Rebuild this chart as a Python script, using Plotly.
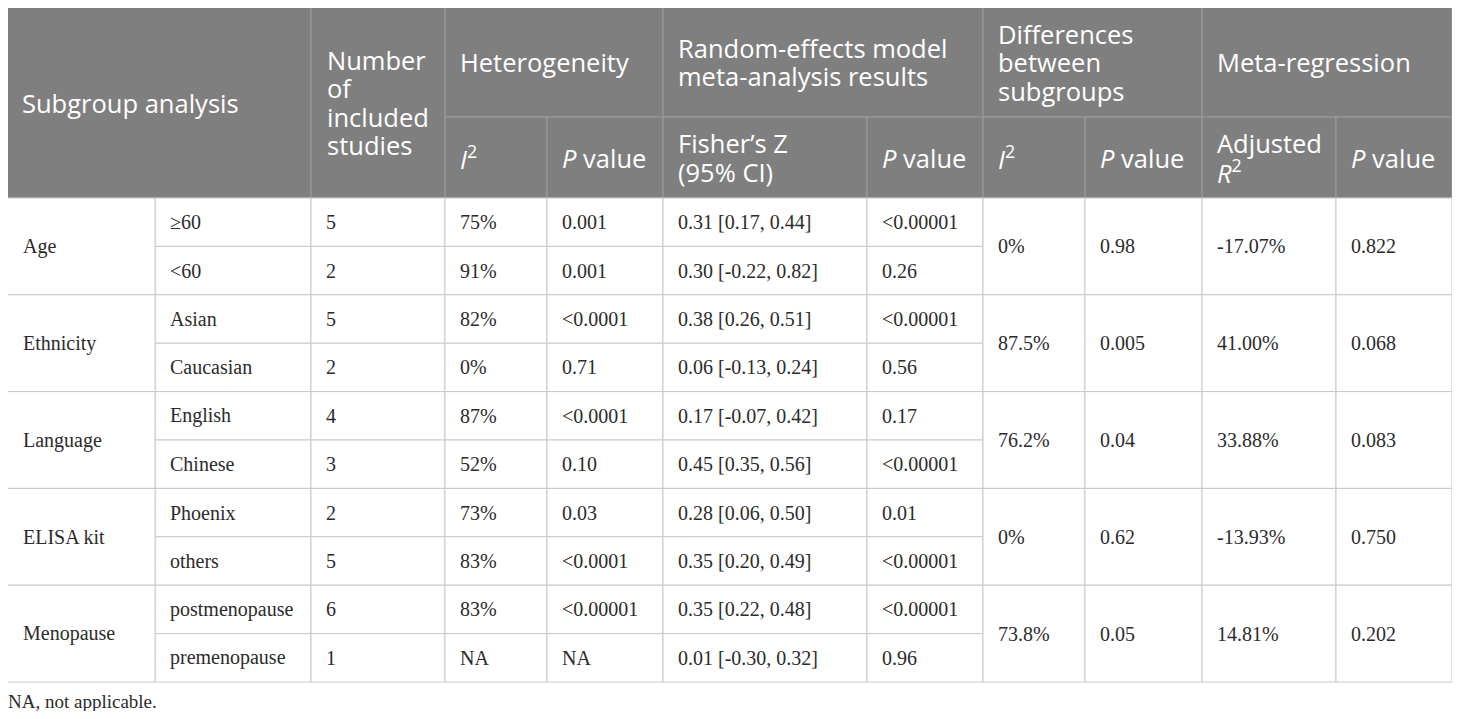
import plotly.graph_objects as go

# table contents
groups = ["Age", "Ethnicity", "Language", "ELISA kit", "Menopause"]
subgroups = ["≥60", "<60", "Asian", "Caucasian", "English", "Chinese",
             "Phoenix", "others", "postmenopause", "premenopause"]
n_studies = [5, 2, 5, 2, 4, 3, 2, 5, 6, 1]
het_i2 = ["75%", "91%", "82%", "0%", "87%", "52%", "73%", "83%", "83%", "NA"]
het_p = ["0.001", "0.001", "<0.0001", "0.71", "<0.0001", "0.10", "0.03",
         "<0.0001", "<0.00001", "NA"]
fisher_z = ["0.31 [0.17, 0.44]", "0.30 [-0.22, 0.82]", "0.38 [0.26, 0.51]",
            "0.06 [-0.13, 0.24]", "0.17 [-0.07, 0.42]", "0.45 [0.35, 0.56]",
            "0.28 [0.06, 0.50]", "0.35 [0.20, 0.49]", "0.35 [0.22, 0.48]",
            "0.01 [-0.30, 0.32]"]
re_p = ["<0.00001", "0.26", "<0.00001", "0.56", "0.17", "<0.00001", "0.01",
        "<0.00001", "<0.00001", "0.96"]
diff_i2 = ["0%", "87.5%", "76.2%", "0%", "73.8%"]
diff_p = ["0.98", "0.005", "0.04", "0.62", "0.05"]
adj_r2 = ["-17.07%", "41.00%", "33.88%", "-13.93%", "14.81%"]
reg_p = ["0.822", "0.068", "0.083", "0.750", "0.202"]

top_headers = [["Subgroup analysis"], ["Number", "of", "included", "studies"],
               ["Heterogeneity"], ["Random-effects model", "meta-analysis results"],
               ["Differences", "between", "subgroups"], ["Meta-regression"]]
sub_headers = [["<i>I</i><sup>2</sup>"], ["<i>P</i> value"],
               ["Fisher’s Z", "(95% CI)"], ["<i>P</i> value"],
               ["<i>I</i><sup>2</sup>"], ["<i>P</i> value"],
               ["Adjusted", "<i>R</i><sup>2</sup>"], ["<i>P</i> value"]]
footnote = "NA, not applicable."

# layout of the grid, in page pixels (the page body has an 8px margin)
OFF = 8
W, H = 1444, 703
cols = [5, 155, 311, 445, 547, 663, 867, 983, 1085, 1202, 1336, 1452]
y_top, y_mid, y_head = 7, 117, 198
row_h = 48.4
line_h = 28.5
HEAD_BG = "#7f7f7f"
HEAD_LINE = "#9c9c9c"
BODY_LINE = "#c8c8c8"
HEAD_FONT = dict(family="Open Sans", size=25.5, color="white")
BODY_FONT = dict(family="Liberation Serif", size=20, color="#2b2b2b")

shapes = []
annotations = []


def cell(x0, x1, y0, y1, fill, line):
    shapes.append(dict(type="rect", xref="x", yref="y", x0=x0, x1=x1, y0=y0, y1=y1,
                       fillcolor=fill, line=dict(color=line, width=1), layer="below"))


def label(x, y, text, font, pad):
    annotations.append(dict(x=x + pad, y=y, xref="x", yref="y", text=text,
                            showarrow=False, xanchor="left", yanchor="middle",
                            align="left", font=font))


def head_label(x, yc, lines, pad):
    n = len(lines)
    for i, txt in enumerate(lines):
        label(x, yc + (i - (n - 1) / 2) * line_h, txt, HEAD_FONT, pad)


# header: cells spanning both header rows
for x0, x1, lines, pad in [(cols[0], cols[2], top_headers[0], 15),
                           (cols[2], cols[3], top_headers[1], 14)]:
    cell(x0, x1, y_top, y_head, HEAD_BG, HEAD_LINE)
    head_label(x0, (y_top + y_head) / 2, lines, pad)

# header: grouped columns
group_spans = [(3, 5), (5, 7), (7, 9), (9, 11)]
for (a, b), lines in zip(group_spans, top_headers[2:]):
    cell(cols[a], cols[b], y_top, y_mid, HEAD_BG, HEAD_LINE)
    head_label(cols[a], (y_top + y_mid) / 2, lines, 13)

for i, lines in enumerate(sub_headers):
    x0, x1 = cols[3 + i], cols[4 + i]
    cell(x0, x1, y_mid, y_head, HEAD_BG, HEAD_LINE)
    head_label(x0, (y_mid + y_head) / 2, lines, 13)

# body rows
for r in range(len(subgroups)):
    y0 = y_head + r * row_h
    y1 = y0 + row_h
    yc = (y0 + y1) / 2
    values = [subgroups[r], str(n_studies[r]), het_i2[r], het_p[r], fisher_z[r], re_p[r]]
    for c, v in enumerate(values):
        cell(cols[1 + c], cols[2 + c], y0, y1, "white", BODY_LINE)
        label(cols[1 + c], yc, v, BODY_FONT, 13)

# body cells merged over the two rows of each group
for g in range(len(groups)):
    y0 = y_head + 2 * g * row_h
    y1 = y0 + 2 * row_h
    yc = (y0 + y1) / 2
    cell(cols[0], cols[1], y0, y1, "white", BODY_LINE)
    label(cols[0], yc, groups[g], BODY_FONT, 16)
    for c, v in enumerate([diff_i2[g], diff_p[g], adj_r2[g], reg_p[g]]):
        cell(cols[7 + c], cols[8 + c], y0, y1, "white", BODY_LINE)
        label(cols[7 + c], yc, v, BODY_FONT, 13)

# footnote under the table, placed on the paper
annotations.append(dict(x=(6 - OFF) / W, y=(OFF + H - 701) / H, xref="paper", yref="paper",
                        text=footnote, showarrow=False, xanchor="left", yanchor="middle",
                        font=dict(family="Liberation Serif", size=19, color="#2b2b2b")))

fig = go.Figure()
fig.update_layout(
    width=W, height=H,
    margin=dict(l=0, r=0, t=0, b=0),
    paper_bgcolor="white", plot_bgcolor="white",
    xaxis=dict(range=[OFF, OFF + W], visible=False, fixedrange=True),
    yaxis=dict(range=[OFF + H, OFF], visible=False, fixedrange=True),
    shapes=shapes, annotations=annotations,
    showlegend=False,
)

fig.write_html("out.html")
